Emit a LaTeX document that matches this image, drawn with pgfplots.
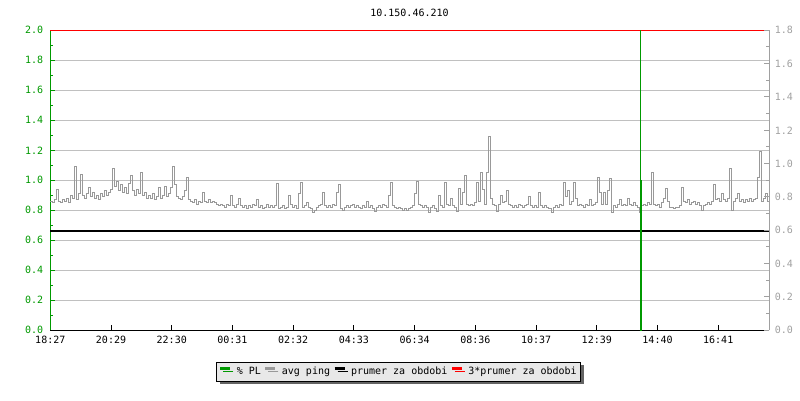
\documentclass[border=0pt]{standalone}
\usepackage{fontspec}
\setmainfont{DejaVu Sans Mono}
\usepackage{pgfplots}
\pgfplotsset{compat=1.18}
\usepackage{pgfplotstable}
\usetikzlibrary{shadows}

\definecolor{plgreen}{RGB}{0,153,0}
\definecolor{pinggray}{RGB}{153,153,153}
\definecolor{gridgray}{RGB}{192,192,192}
\definecolor{rgray}{RGB}{160,160,160}
\definecolor{legendgray}{RGB}{232,232,232}
\definecolor{shadowgray}{RGB}{100,100,100}

% avg ping, one sample every 4 minutes from 18:27
\pgfplotstableread[row sep=\\]{
x y\\
0 0.86\\ 4 0.85\\ 8 0.87\\ 12 0.94\\ 16 0.86\\ 20 0.85\\ 24 0.87\\ 28 0.86\\ 32 0.88\\ 36 0.85\\
40 0.90\\ 44 0.88\\ 48 1.09\\ 52 0.87\\ 56 0.91\\ 60 1.04\\ 64 0.90\\ 68 0.88\\ 72 0.91\\ 76 0.95\\
80 0.89\\ 84 0.92\\ 88 0.88\\ 92 0.90\\ 96 0.87\\ 100 0.91\\ 104 0.89\\ 108 0.93\\ 112 0.90\\ 116 0.92\\
120 0.94\\ 124 1.08\\ 128 0.96\\ 132 0.99\\ 136 0.93\\ 140 0.97\\ 144 0.92\\ 148 0.95\\ 152 0.91\\ 156 0.98\\
160 1.035\\ 164 0.93\\ 168 0.90\\ 172 0.94\\ 176 0.91\\ 180 1.05\\ 184 0.90\\ 188 0.92\\ 192 0.88\\ 196 0.90\\
200 0.88\\ 204 0.91\\ 208 0.87\\ 212 0.89\\ 216 0.95\\ 220 0.88\\ 224 0.90\\ 228 0.96\\ 232 0.89\\ 236 0.91\\
240 0.95\\ 244 1.09\\ 248 0.97\\ 252 0.89\\ 256 0.88\\ 260 0.87\\ 264 0.89\\ 268 0.935\\ 272 1.02\\ 276 0.87\\
280 0.86\\ 284 0.85\\ 288 0.87\\ 292 0.84\\ 296 0.86\\ 300 0.85\\ 304 0.92\\ 308 0.86\\ 312 0.85\\ 316 0.87\\
320 0.85\\ 324 0.86\\ 328 0.85\\ 332 0.84\\ 336 0.83\\ 340 0.84\\ 344 0.83\\ 348 0.82\\ 352 0.84\\ 356 0.83\\
360 0.90\\ 364 0.83\\ 368 0.82\\ 372 0.84\\ 376 0.88\\ 380 0.83\\ 384 0.82\\ 388 0.83\\ 392 0.81\\ 396 0.83\\
400 0.82\\ 404 0.84\\ 408 0.83\\ 412 0.87\\ 416 0.82\\ 420 0.83\\ 424 0.81\\ 428 0.82\\ 432 0.84\\ 436 0.82\\
440 0.83\\ 444 0.82\\ 448 0.83\\ 452 0.98\\ 456 0.81\\ 460 0.82\\ 464 0.83\\ 468 0.81\\ 472 0.82\\ 476 0.90\\
480 0.84\\ 484 0.82\\ 488 0.83\\ 492 0.81\\ 496 0.91\\ 500 0.985\\ 504 0.82\\ 508 0.83\\ 512 0.85\\ 516 0.82\\
520 0.81\\ 524 0.787\\ 528 0.80\\ 532 0.82\\ 536 0.83\\ 540 0.84\\ 544 0.92\\ 548 0.83\\ 552 0.82\\ 556 0.83\\
560 0.82\\ 564 0.84\\ 568 0.83\\ 572 0.92\\ 576 0.97\\ 580 0.81\\ 584 0.80\\ 588 0.82\\ 592 0.83\\ 596 0.82\\
600 0.83\\ 604 0.84\\ 608 0.82\\ 612 0.83\\ 616 0.82\\ 620 0.81\\ 624 0.83\\ 628 0.82\\ 632 0.86\\ 636 0.82\\
640 0.83\\ 644 0.81\\ 648 0.79\\ 652 0.82\\ 656 0.83\\ 660 0.82\\ 664 0.84\\ 668 0.83\\ 672 0.82\\ 676 0.90\\
680 0.985\\ 684 0.83\\ 688 0.82\\ 692 0.81\\ 696 0.82\\ 700 0.81\\ 704 0.80\\ 708 0.81\\ 712 0.80\\ 716 0.81\\
720 0.82\\ 724 0.83\\ 728 0.91\\ 732 0.99\\ 736 0.84\\ 740 0.83\\ 744 0.82\\ 748 0.83\\ 752 0.82\\ 756 0.787\\
760 0.82\\ 764 0.83\\ 768 0.81\\ 772 0.79\\ 776 0.90\\ 780 0.83\\ 784 0.82\\ 788 0.985\\ 792 0.84\\ 796 0.83\\
800 0.88\\ 804 0.83\\ 808 0.82\\ 812 0.79\\ 816 0.947\\ 820 0.84\\ 824 0.92\\ 828 1.035\\ 832 0.84\\ 836 0.83\\
840 0.84\\ 844 0.83\\ 848 0.85\\ 852 0.985\\ 856 0.86\\ 860 1.05\\ 864 0.94\\ 868 0.84\\ 872 1.05\\ 876 1.29\\
880 0.88\\ 884 0.84\\ 888 0.83\\ 892 0.79\\ 896 0.84\\ 900 0.90\\ 904 0.85\\ 908 0.86\\ 912 0.935\\ 916 0.84\\
920 0.83\\ 924 0.82\\ 928 0.83\\ 932 0.82\\ 936 0.84\\ 940 0.83\\ 944 0.82\\ 948 0.83\\ 952 0.84\\ 956 0.89\\
960 0.83\\ 964 0.82\\ 968 0.83\\ 972 0.82\\ 976 0.92\\ 980 0.83\\ 984 0.82\\ 988 0.83\\ 992 0.82\\ 996 0.81\\
1000 0.785\\ 1004 0.82\\ 1008 0.83\\ 1012 0.82\\ 1016 0.84\\ 1020 0.83\\ 1024 0.987\\ 1028 0.89\\ 1032 0.93\\ 1036 0.84\\
1040 0.86\\ 1044 0.987\\ 1048 0.88\\ 1052 0.83\\ 1056 0.84\\ 1060 0.83\\ 1064 0.82\\ 1068 0.84\\ 1072 0.83\\ 1076 0.87\\
1080 0.83\\ 1084 0.84\\ 1088 0.85\\ 1092 1.02\\ 1096 0.92\\ 1100 0.84\\ 1104 0.92\\ 1108 0.84\\ 1112 0.935\\ 1116 1.01\\
1120 0.785\\ 1124 0.83\\ 1128 0.82\\ 1132 0.84\\ 1136 0.87\\ 1140 0.83\\ 1144 0.84\\ 1148 0.83\\ 1152 0.88\\ 1156 0.84\\
1160 0.83\\ 1164 0.85\\ 1168 0.83\\ 1172 0.82\\ 1176 0.785\\ 1180 0.83\\ 1184 0.84\\ 1188 0.83\\ 1192 0.85\\ 1196 0.84\\
1200 1.05\\ 1204 0.84\\ 1208 0.83\\ 1212 0.84\\ 1216 0.82\\ 1220 0.85\\ 1224 0.88\\ 1228 0.947\\ 1232 0.86\\ 1236 0.82\\
1240 0.82\\ 1244 0.81\\ 1248 0.82\\ 1252 0.82\\ 1256 0.83\\ 1260 0.953\\ 1264 0.86\\ 1268 0.85\\ 1272 0.87\\ 1276 0.84\\
1280 0.85\\ 1284 0.86\\ 1288 0.84\\ 1292 0.85\\ 1296 0.83\\ 1300 0.80\\ 1304 0.83\\ 1308 0.84\\ 1312 0.85\\ 1316 0.84\\
1320 0.86\\ 1324 0.97\\ 1328 0.87\\ 1332 0.88\\ 1336 0.86\\ 1340 0.91\\ 1344 0.87\\ 1348 0.86\\ 1352 0.88\\ 1356 1.08\\
1360 0.80\\ 1364 0.86\\ 1368 0.88\\ 1372 0.91\\ 1376 0.86\\ 1380 0.87\\ 1384 0.85\\ 1388 0.87\\ 1392 0.86\\ 1396 0.88\\
1400 0.86\\ 1404 0.87\\ 1408 0.88\\ 1412 1.02\\ 1416 1.19\\ 1420 0.86\\ 1424 0.88\\ 1428 0.91\\ 1432 0.86\\ 1436 0.88\\
}\pingdata

\begin{document}
\begin{tikzpicture}
\path[use as bounding box] (-50.3pt,-70pt) rectangle (749.7pt,330.3pt);
\begin{axis}[
    at={(0pt,0pt)}, anchor=south west,
    scale only axis, width=719pt, height=300pt,
    xmin=0, xmax=1436, ymin=0, ymax=2,
    clip=false,
    axis x line*=bottom, axis y line*=left,
    axis line style={-},
    x axis line style={black, line width=1pt},
    y axis line style={plgreen, line width=1pt},
    xtick={0,121.27,242.55,363.82,485.09,606.36,727.64,848.91,970.18,1091.45,1212.73,1334},
    xticklabels={18:27,20:29,22:30,00:31,02:32,04:33,06:34,08:36,10:37,12:39,14:40,16:41},
    ytick={0,0.2,0.4,0.6,0.8,1.0,1.2,1.4,1.6,1.8,2.0},
    minor y tick num=1,
    tick align=inside,
    major tick length=5pt, minor tick length=3pt,
    xtick style={black, line width=1pt},
    ytick style={plgreen, line width=1pt},
    xticklabel style={black, yshift=-2pt},
    yticklabel style={plgreen, xshift=-3.5pt},
    ymajorgrids=true,
    grid style={gridgray, line width=1pt},
    /pgf/number format/fixed,
    /pgf/number format/fixed zerofill,
    /pgf/number format/precision=1,
    /pgf/number format/assume math mode=true,
    legend columns=-1,
    legend style={at={(0.4847,-0.1377)}, anchor=center,
        draw=black, line width=1pt, fill=legendgray,
        drop shadow={shadow xshift=3pt, shadow yshift=-3pt, fill=shadowgray, opacity=1},
        inner xsep=2pt, inner ysep=3pt,
        /tikz/every odd column/.append style={column sep=3pt},
        /tikz/every even column/.append style={column sep=1pt}},
    legend image code/.code={\draw[#1, line width=3pt] (0pt,3pt) -- (10pt,3pt);},
]
\addlegendimage{plgreen}
\addlegendentry{\% PL}
\addlegendimage{pinggray}
\addlegendentry{avg ping}
\addlegendimage{black}
\addlegendentry{prumer za obdobi}
\addlegendimage{red}
\addlegendentry{3*prumer za obdobi}

\addplot[pinggray, line width=1pt, const plot, forget plot] table[x=x, y=y] {\pingdata};
\addplot[black, line width=2pt, forget plot] coordinates {(0,0.662) (1436,0.662)};
\addplot[red, line width=1.5pt, forget plot] coordinates {(0,2.0) (1436,2.0)};
\addplot[plgreen, line width=1pt, const plot, forget plot] coordinates {(1177,0) (1178,2.0) (1179,1.0) (1180,0) (1181,0)};
\end{axis}

\begin{axis}[
    at={(0pt,0pt)}, anchor=south west,
    scale only axis, width=719pt, height=300pt,
    xmin=0, xmax=1436, ymin=0, ymax=1.8,
    axis x line=none, axis y line*=right,
    axis line style={-},
    y axis line style={rgray, line width=1pt},
    ytick={0,0.2,0.4,0.6,0.8,1.0,1.2,1.4,1.6,1.8},
    minor y tick num=1,
    tick align=inside,
    major tick length=5pt, minor tick length=3pt,
    ytick style={rgray, line width=1pt},
    yticklabel style={rgray, xshift=2pt},
    /pgf/number format/fixed,
    /pgf/number format/fixed zerofill,
    /pgf/number format/precision=1,
    /pgf/number format/assume math mode=true,
]
\end{axis}

\node at (359.2pt,317pt) {10.150.46.210};
\end{tikzpicture}
\end{document}
